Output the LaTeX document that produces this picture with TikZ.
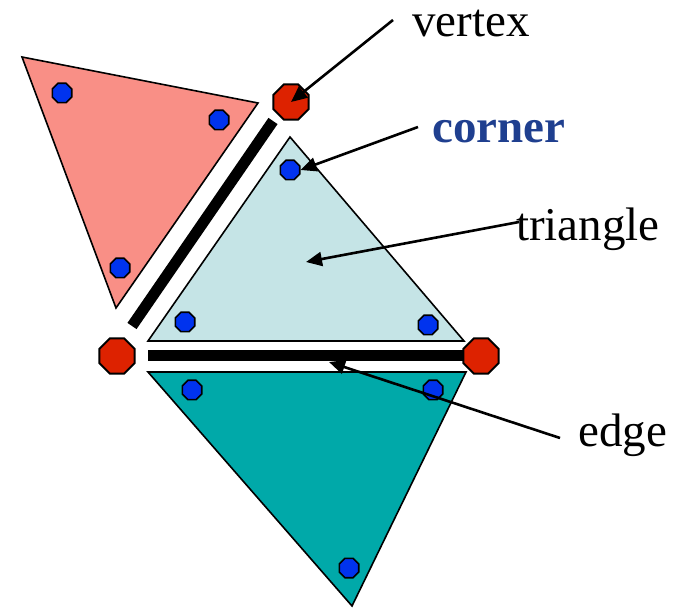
\documentclass[tikz,border=0pt]{standalone}
\usepackage{fontspec}
\setmainfont{Liberation Serif}
\usetikzlibrary{shapes.geometric,arrows.meta}
\definecolor{pinkfill}{HTML}{F98F86}
\definecolor{lightfill}{HTML}{C5E4E6}
\definecolor{tealfill}{HTML}{00A9A9}
\definecolor{vred}{HTML}{DD2200}
\definecolor{cblue}{HTML}{0033EE}
\definecolor{lblue}{HTML}{1F3F8F}
\tikzset{
  tri/.style={draw=black,line width=1.6pt,line join=miter},
  vtx/.style={regular polygon,regular polygon sides=8,draw=black,line width=2pt,fill=vred,minimum size=38pt,inner sep=0pt},
  cnr/.style={regular polygon,regular polygon sides=8,draw=black,line width=1.6pt,fill=cblue,minimum size=21pt,inner sep=0pt},
  thickedge/.style={line width=11pt,black},
  lbl/.style={font=\fontsize{47}{50}\selectfont,inner sep=0pt},
  ptr/.style={line width=2.6pt,-{Triangle[length=16pt,width=14pt]}}
}
\begin{document}
\begin{tikzpicture}[x=1pt,y=-1pt]
\useasboundingbox (0,0) rectangle (683,609);
% triangles
\draw[tri,fill=pinkfill] (22,57) -- (258,103) -- (116,308) -- cycle;
\draw[tri,fill=lightfill] (290,137) -- (464,341) -- (148,341) -- cycle;
\draw[tri,fill=tealfill] (148,372) -- (466,372) -- (352,606) -- cycle;
% thick edges
\coordinate (e1a) at (273,121);
\coordinate (e1b) at (132,326);
\draw[thickedge] (e1a) -- (e1b);
\coordinate (e2a) at (148,356);
\coordinate (e2b) at (470,356);
\draw[thickedge] (e2a) -- (e2b);
% vertices
\node[vtx] (v1) at (291,102) {};
\node[vtx] (v2) at (117,356) {};
\node[vtx] (v3) at (481,356) {};
% corners
\node[cnr] (c1) at (62,93) {};
\node[cnr] (c2) at (219,120) {};
\node[cnr] (c3) at (120,268) {};
\node[cnr] (c4) at (290,170) {};
\node[cnr] (c5) at (185,322) {};
\node[cnr] (c6) at (428,325) {};
\node[cnr] (c7) at (192,390) {};
\node[cnr] (c8) at (433,390) {};
\node[cnr] (c9) at (349,568) {};
% labels
\node[lbl,anchor=west] (lv) at (412,24) {vertex};
\node[lbl,anchor=west,text=lblue,font=\fontsize{47}{50}\selectfont\bfseries] (lc) at (432,132) {corner};
\node[lbl,anchor=west] (lt) at (516,229) {triangle};
\node[lbl,anchor=west] (le) at (578,435) {edge};
% pointer starts and ends
\coordinate (sv) at (393,20);
\coordinate (sc) at (418,127);
\coordinate (st) at (519,222);
\coordinate (se) at (560,438);
\coordinate (tt) at (306,262);
\coordinate (te) at (329,362);
\draw[ptr] (sv) -- (v1.center);
\draw[ptr] (sc) -- (c4.east);
\draw[ptr] (st) -- (tt);
\draw[ptr] (se) -- (te);
\end{tikzpicture}
\end{document}
